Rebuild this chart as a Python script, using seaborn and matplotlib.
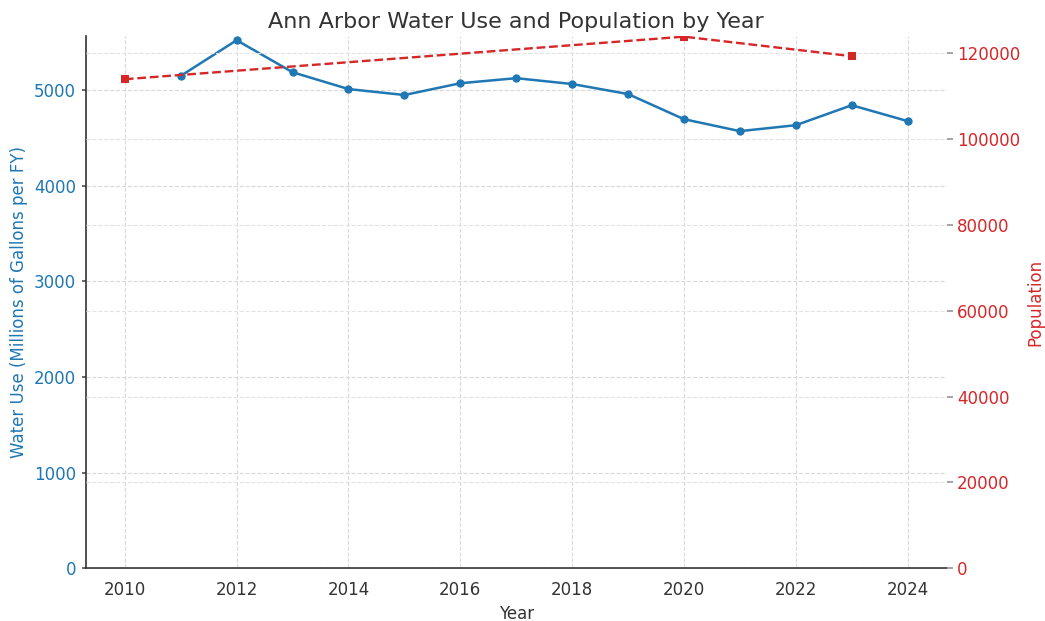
import matplotlib
matplotlib.use("Agg")
import matplotlib.pyplot as plt
import seaborn as sns
import pandas as pd

years = [2010, 2011, 2012, 2013, 2014, 2015, 2016, 2017, 2018, 2019, 2020, 2021, 2022, 2023, 2024]
water_use = [None, 5150, 5523, 5188, 5012, 4950, 5073, 5126, 5065, 4960, 4697, 4572, 4634, 4843, 4677]
pop_years = [2010, 2020, 2023]
population = [113934, 123851, 119300]

sns.set_theme(style="whitegrid")
plt.rcParams['font.family'] = ['DejaVu Sans']

water_df = pd.DataFrame({"Year": years, "Water": water_use}).dropna()
pop_df = pd.DataFrame({"Year": pop_years, "Population": population})

blue = "#1f77b4"
red = "#d62728"

fig, ax1 = plt.subplots(figsize=(10.45, 6.21), dpi=100)
fig.subplots_adjust(left=0.082, right=0.906, top=0.942, bottom=0.085)

sns.lineplot(data=water_df, x="Year", y="Water", ax=ax1, color=blue, marker="o",
             markersize=6, markeredgewidth=0, linewidth=1.8)
ax1.set_ylim(0, 5567)
ax1.set_xlim(2009.3, 2024.7)
ax1.set_xticks(list(range(2010, 2025, 2)))
ax1.set_ylabel("Water Use (Millions of Gallons per FY)", color=blue, fontsize=12, labelpad=4)
ax1.set_xlabel("Year", fontsize=12, color="#333333")
ax1.tick_params(axis="y", labelcolor=blue, labelsize=12, left=True, length=3, color="#555555", pad=4)
ax1.tick_params(axis="x", labelsize=12, labelcolor="#333333")
ax1.grid(True, linestyle="--", color="#d9d9d9", linewidth=0.8)

ax2 = ax1.twinx()
sns.lineplot(data=pop_df, x="Year", y="Population", ax=ax2, color=red, marker="s",
             markersize=6, markeredgewidth=0, linewidth=1.7, linestyle="--")
ax2.set_ylim(0, 124000)
ax2.set_yticks([0, 20000, 40000, 60000, 80000, 100000, 120000])
ax2.set_ylabel("Population", color=red, fontsize=12)
ax2.tick_params(axis="y", labelcolor=red, labelsize=12, right=True, length=4, color="#999999")
ax2.grid(True, axis="y", linestyle="--", color="#e3e3e3", linewidth=0.8)

for ax in (ax1, ax2):
    ax.spines["top"].set_visible(False)
    ax.spines["right"].set_visible(False)
ax1.spines["left"].set_color("#333333")
ax1.spines["bottom"].set_color("#333333")
ax1.spines["left"].set_linewidth(1.2)
ax1.spines["bottom"].set_linewidth(1.2)
ax2.spines["left"].set_visible(False)
ax2.spines["bottom"].set_visible(False)

ax1.set_title("Ann Arbor Water Use and Population by Year", fontsize=16, color="#333333")

fig.savefig("out.png", dpi=100)
